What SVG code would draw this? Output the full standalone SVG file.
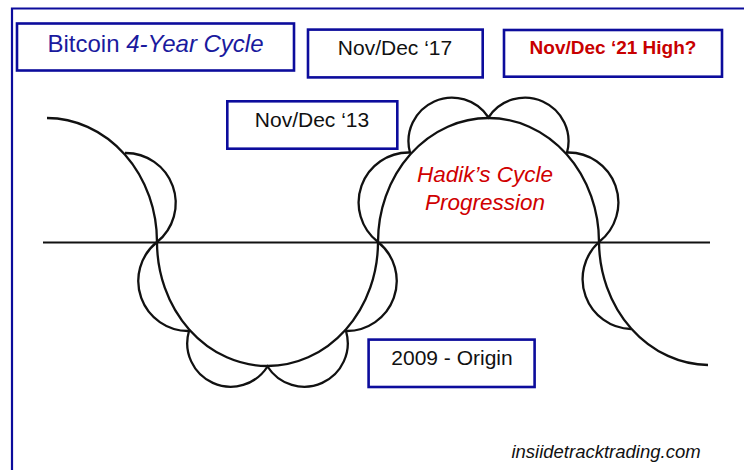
<svg xmlns="http://www.w3.org/2000/svg" width="744" height="470" viewBox="0 0 744 470">
<style>
.box{fill:#fff;stroke:#0c0c9c;stroke-width:2.6}
.frame{fill:none;stroke:#0c0c9c;stroke-width:2.2}
.curve{fill:none;stroke:#111;stroke-width:2.3}
.axis{fill:none;stroke:#111;stroke-width:1.8}
.t{font-family:"Liberation Sans",Arial,sans-serif;text-anchor:middle}
</style>
<rect width="744" height="470" fill="#fff"/>
<g id="frame"><path class="frame" d="M12 470 V8.5 H744"/></g>
<g id="connectors">
<path class="axis" d="M43 242.5 H710"/>
<path class="curve" d="M47 118 A110.5 124 0 0 1 157 242 A110.5 124 0 0 0 378 242 A110.5 124 0 0 1 599 242 A110.5 124 0 0 0 708 365"/>
<path class="curve" d="M125 153 A50 50 0 0 1 157 242"/>
<path class="curve" d="M157 242 A50 50 0 0 0 189 331 A43.5 43.5 0 0 0 267.5 366.5 A43.5 43.5 0 0 0 346 331 A50 50 0 0 0 378 242"/>
<path class="curve" d="M378 242 A50 50 0 0 1 410 152.5 A43.5 43.5 0 0 1 488.5 117.5 A43.5 43.5 0 0 1 567 152.5 A50 50 0 0 1 599 242"/>
<path class="curve" d="M599 242 A50 50 0 0 0 631 329"/>
</g>
<g id="title"><rect class="box" x="17" y="23.5" width="277" height="47"/><text class="t" x="155.5" y="52" font-size="24" fill="#1a1a9e">Bitcoin <tspan font-style="italic">4-Year Cycle</tspan></text></g>
<g id="nov17"><rect class="box" x="308" y="29.6" width="174.7" height="47.8"/><text class="t" x="395" y="55" font-size="21" fill="#111">Nov/Dec ‘17</text></g>
<g id="nov21"><rect class="box" x="504" y="30" width="218" height="46.7"/><text class="t" x="613" y="54" font-size="19" font-weight="bold" fill="#c80000">Nov/Dec ‘21 High?</text></g>
<g id="nov13"><rect class="box" x="227.3" y="101.3" width="170" height="47.4"/><text class="t" x="312" y="127" font-size="21" fill="#111">Nov/Dec ‘13</text></g>
<g id="origin"><rect class="box" x="368.6" y="339.6" width="166" height="47.4"/><text class="t" x="452" y="365" font-size="21" fill="#111">2009 - Origin</text></g>
<g id="hadik"><text class="t" x="485" y="181.5" font-size="22.5" font-style="italic" fill="#d00000">Hadik’s Cycle</text><text class="t" x="485" y="210" font-size="22.5" font-style="italic" fill="#d00000">Progression</text></g>
<g id="credit"><text class="t" x="606" y="457.5" font-size="18.5" font-style="italic" fill="#111">insiidetracktrading.com</text></g>
</svg>
